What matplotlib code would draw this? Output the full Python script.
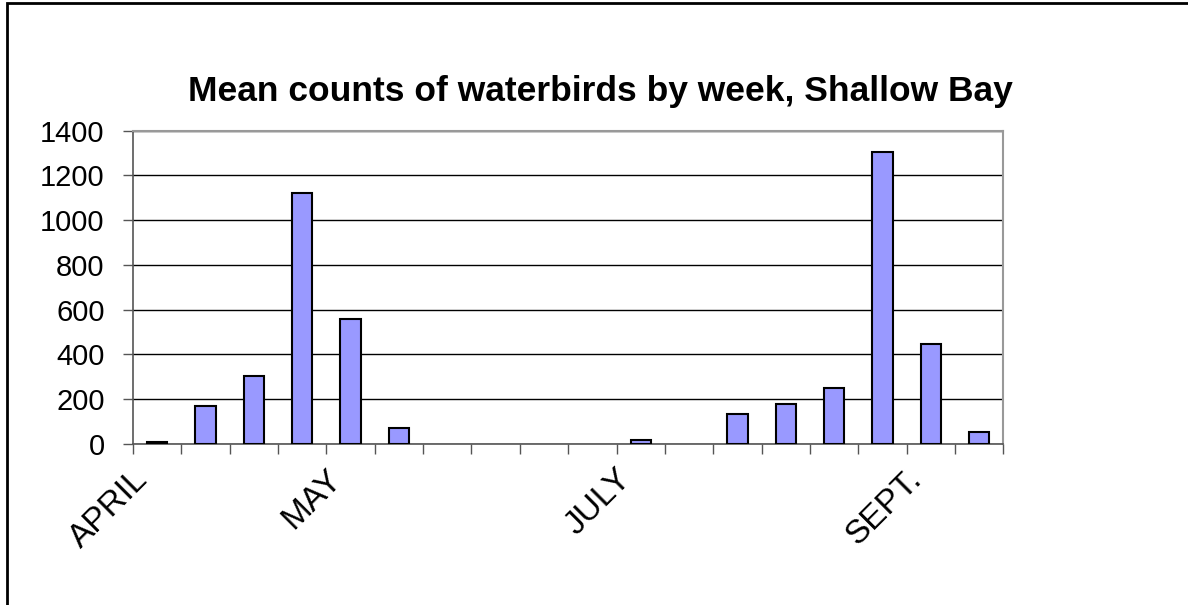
import numpy as np
import matplotlib
matplotlib.use("Agg")
import matplotlib.pyplot as plt
from matplotlib.patches import Rectangle
from matplotlib.ticker import MultipleLocator, FixedLocator
import matplotlib.transforms as mtransforms

plt.rcParams['font.family'] = ['Liberation Sans', 'DejaVu Sans']

# weekly mean counts, Shallow Bay
weeks = np.arange(18)
mean_counts = [9, 171, 305, 1123, 557, 70, 0, 0, 0, 0, 18, 0, 134, 179, 252, 1303, 448, 54]
week_labels = ['APRIL', '', '', '', 'MAY', '', '', '', '', '', 'JULY', '', '', '', '', '', 'SEPT.', '']
title = 'Mean counts of waterbirds by week, Shallow Bay'

fig = plt.figure(figsize=(11.88, 6.05), dpi=100)
ax = fig.add_axes([0.112, 0.2661, 0.7325, 0.518])

bars = ax.bar(weeks, mean_counts, width=0.42, color='#9999FF', edgecolor='black',
              linewidth=1.5, zorder=3)
# empty weeks show no outline
for b, v in zip(bars, mean_counts):
    if v == 0:
        b.set_linewidth(0)

ax.set_xlim(-0.5, len(weeks) - 0.5)
ax.set_ylim(0, 1400)
ax.yaxis.set_major_locator(MultipleLocator(200))
ax.grid(axis='y', color='black', linewidth=1, zorder=0)

# category boundaries get the tick marks, labels sit on the weeks
ax.set_xticks(weeks)
ax.set_xticklabels(week_labels, rotation=45, ha='right', va='center',
                   rotation_mode='anchor', fontsize=24)
ax.xaxis.set_minor_locator(FixedLocator(np.arange(len(weeks) + 1) - 0.5))
ax.tick_params(axis='x', which='major', length=0, pad=22)
ax.tick_params(axis='x', which='minor', length=7.5, width=1, color='#555555',
               direction='out')
offset = mtransforms.ScaledTranslation(-14 / 100, 0, fig.dpi_scale_trans)
for lbl in ax.get_xticklabels():
    lbl.set_transform(lbl.get_transform() + offset)

ax.tick_params(axis='y', length=7.5, width=1, color='#555555', pad=13,
               labelsize=21, direction='out')

for side in ['top', 'right']:
    ax.spines[side].set_color('#999999')
    ax.spines[side].set_linewidth(1.5)
ax.spines['left'].set_color('#555555')
ax.spines['bottom'].set_color('#555555')
ax.spines['left'].set_linewidth(1.2)
ax.spines['bottom'].set_linewidth(1.2)

fig.text(0.505, 0.848, title, ha='center', va='center', fontsize=25.5,
         fontweight='bold')

# outer chart border (left and top visible)
fig.patches.append(Rectangle((7 / 1188, -0.05), 1.2, 1 - 3 / 605 + 0.05,
                             transform=fig.transFigure, fill=False,
                             edgecolor='black', linewidth=2))

fig.savefig('out.png', dpi=100)
